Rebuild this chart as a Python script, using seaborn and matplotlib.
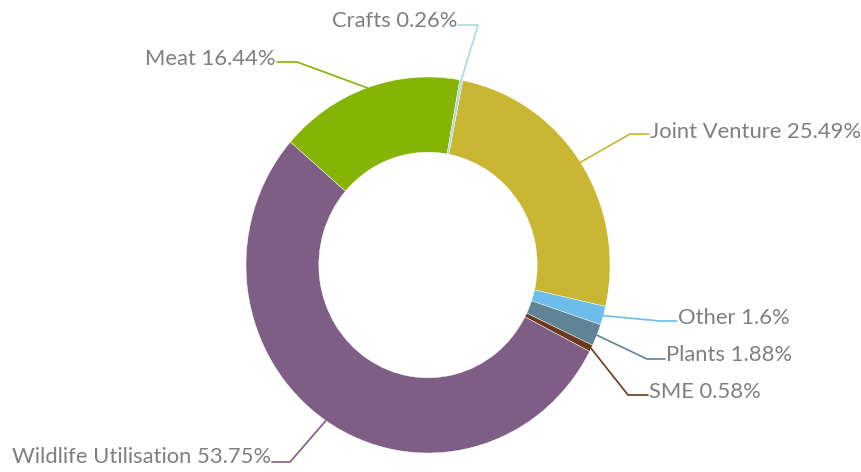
import numpy as np
import matplotlib
matplotlib.use("Agg")
import matplotlib.pyplot as plt
import seaborn as sns

# data (clockwise from the top)
labels = ["Joint Venture", "Other", "Plants", "SME",
          "Wildlife Utilisation", "Meat", "Crafts"]
shares = [25.49, 1.6, 1.88, 0.58, 53.75, 16.44, 0.26]
share_text = ["25.49%", "1.6%", "1.88%", "0.58%", "53.75%", "16.44%", "0.26%"]
colors = ["#C9B632", "#6CBDEA", "#5F8397", "#6B3A1C",
          "#7E5E85", "#86B404", "#A8DADF"]

# label layout in pixels: text anchor x, text y, elbow x, line y, alignment
text_x = [649, 677, 665, 648, 272, 277, 458]
text_y = [132, 318, 355, 392, 457, 59, 21]
elbow_x = [630, 660, 647, 628, 290, 297, 478]
line_y = [134, 321, 359, 395, 462, 62, 25]
align = ["left", "left", "left", "left", "right", "right", "right"]

W, H = 862, 472
sy = 188 / 182          # donut is slightly taller than wide
cx, cy = 428, 265
R = 182


def to_data(x, y):
    return x, (H - y) / sy


sns.set_theme(style="white")
plt.rcParams["font.family"] = ["Lato", "DejaVu Sans"]

fig = plt.figure(figsize=(W / 100, H / 100), dpi=100)
ax = fig.add_axes([0, 0, 1, 1])

center = to_data(cx, cy)
wedges, _ = ax.pie(shares, colors=colors, startangle=79, counterclock=False,
                   radius=R, center=center,
                   wedgeprops=dict(width=0.4 * R, edgecolor="white", linewidth=0.3))

ax.set_aspect("auto")
ax.set_xlim(0, W)
ax.set_ylim(0, H / sy)
ax.axis("off")

for i, w in enumerate(wedges):
    mid = np.deg2rad((w.theta1 + w.theta2) / 2)
    ax_pt = (center[0] + R * np.cos(mid), center[1] + R * np.sin(mid))
    ex, ey = to_data(elbow_x[i], line_y[i])
    tx, ty = to_data(text_x[i], line_y[i])
    ax.plot([ax_pt[0], ex, tx], [ax_pt[1], ey, ty], color=colors[i], lw=1.2,
            solid_joinstyle="miter")
    lx, lyy = to_data(text_x[i] + (1 if align[i] == "left" else -1), text_y[i])
    ax.text(lx, lyy, labels[i] + " " + share_text[i], ha=align[i], va="center",
            fontsize=15.8, color="#7F7F7F")

fig.savefig("out.png", dpi=100)
